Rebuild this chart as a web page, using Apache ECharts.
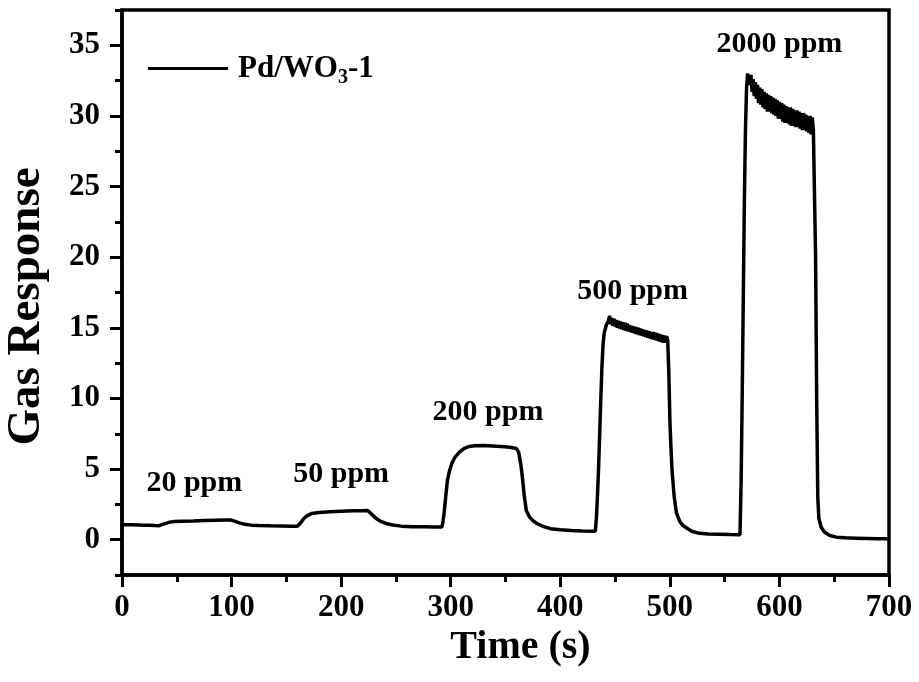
<!DOCTYPE html>
<html>
<head>
<meta charset="utf-8">
<script src="https://cdn.jsdelivr.net/npm/echarts@6/dist/echarts.min.js"></script>
<style>
  html, body { margin: 0; padding: 0; background: #fff; }
  #chart { width: 919px; height: 682px; }
</style>
</head>
<body>
<div id="chart"></div>
<script>
// Gas response of Pd/WO3-1 versus time for successive gas pulses
const timeS = [
  0, 5, 10, 15, 20, 25, 30, 34,
  37, 40, 43, 47, 55, 65, 75, 85, 95, 99,
  102, 105, 108, 112, 118, 125, 135, 145, 155, 160,
  162, 164, 166, 169, 173, 180, 190, 200, 210, 218, 224,
  226, 229, 232, 236, 241, 247, 255, 265, 275, 285, 292,
  293, 294, 295, 296, 297, 299, 301, 304, 308, 312, 317, 322, 330, 338, 346, 354, 360,
  362, 364, 365, 367, 369, 372, 375, 379, 385, 391, 400, 410, 420, 432,
  433, 434, 435, 436, 437, 438, 439, 440, 442, 444, 445, 446, 447, 448, 449, 450, 451, 452, 453, 454,
  455, 456, 457, 458, 459, 460, 461, 462, 463, 464, 465, 466, 467, 468, 469, 470, 471, 472, 473, 474,
  475, 476, 477, 478, 479, 480, 481, 482, 483, 484, 485, 486, 487, 488, 489, 490, 491, 492, 493, 494,
  495, 496, 497, 498,
  499, 500, 501, 502, 504, 506, 509, 512, 515, 520, 527, 535, 545, 555, 564,
  565, 566, 567, 568, 569, 570, 571,
  572, 573, 574, 575, 576, 577, 578, 579, 580, 581, 582, 583, 584, 585, 586, 587, 588, 589,
  590, 591, 592, 593, 594, 595, 596, 597, 598, 599, 600, 601, 602, 603, 604, 605, 606, 607,
  608, 609, 610, 611, 612, 613, 614, 615, 616, 617, 618, 619, 620, 621, 622, 623, 624, 625,
  626, 627, 628, 629, 630, 631,
  632, 633, 634, 635, 636, 638, 641, 646, 652, 660, 670, 680, 690, 700
];
const response = [
  1.06, 1.05, 1.05, 1.04, 1.03, 1.02, 1.0, 0.99,
  1.08, 1.16, 1.23, 1.28, 1.31, 1.33, 1.36, 1.38, 1.40, 1.39,
  1.33, 1.25, 1.17, 1.09, 1.03, 1.0, 0.98, 0.97, 0.96, 0.96,
  1.1, 1.3, 1.5, 1.7, 1.85, 1.93, 1.98, 2.01, 2.04, 2.05, 2.07,
  1.95, 1.72, 1.5, 1.3, 1.15, 1.04, 0.96, 0.92, 0.91, 0.9, 0.9,
  1.3, 1.9, 2.7, 3.5, 4.2, 4.9, 5.4, 5.85, 6.2, 6.45, 6.6, 6.65, 6.66, 6.63, 6.6, 6.55, 6.45,
  6.2, 5.3, 4.7, 3.2, 2.05, 1.6, 1.35, 1.13, 0.92, 0.78, 0.7, 0.65, 0.62, 0.6,
  1.6, 3.2, 5.2, 7.6, 10.0, 12.2, 13.8, 14.6, 15.2, 15.5, 15.85, 15.25, 15.7, 15.15, 15.65, 15.1, 15.55, 15.0, 15.5, 14.95,
  15.45, 14.9, 15.4, 14.85, 15.35, 14.8, 15.3, 14.75, 15.2, 14.7, 15.15, 14.65, 15.1, 14.6, 15.05, 14.55, 15.0, 14.5, 14.95, 14.45,
  14.9, 14.4, 14.85, 14.35, 14.8, 14.3, 14.75, 14.25, 14.7, 14.2, 14.7, 14.15, 14.65, 14.1, 14.6, 14.05, 14.55, 14.0, 14.5, 13.95,
  14.45, 13.95, 14.4, 14.1,
  12.0, 8.5, 6.5, 4.9, 3.0, 1.9, 1.3, 1.0, 0.85, 0.6, 0.45, 0.4, 0.38, 0.36, 0.35,
  4.0, 10.0, 17.0, 24.0, 29.0, 32.0, 33.0,
  33.1, 32.2, 32.9, 31.7, 32.6, 31.4, 32.4, 31.2, 32.2, 30.9, 32.0, 30.8, 31.9, 30.6, 31.7, 30.5, 31.6, 30.3,
  31.5, 30.3, 31.4, 30.2, 31.3, 30.1, 31.2, 30.0, 31.1, 29.8, 31.0, 29.8, 30.9, 29.6, 30.8, 29.5, 30.7, 29.5,
  30.6, 29.4, 30.6, 29.3, 30.5, 29.3, 30.4, 29.2, 30.4, 29.2, 30.3, 29.1, 30.2, 29.0, 30.2, 29.0, 30.1, 28.9,
  30.0, 28.8, 30.0, 28.7, 29.9, 28.9,
  28.8, 20.0, 10.0, 3.0, 1.5, 0.9, 0.55, 0.3, 0.18, 0.13, 0.11, 0.09, 0.07, 0.06
];

// Gas concentration labels placed above each pulse (time, response)
const doseLabels = ['20 ppm', '50 ppm', '200 ppm', '500 ppm', '2000 ppm'];
const doseLabelTime = [66, 200, 334, 466, 600];
const doseLabelLevel = [4.0, 4.6, 9.0, 17.6, 35.1];

const seriesName = 'Pd/WO3-1';
const xTicks = { min: 0, max: 700, step: 100 };
const yMajor = { min: 0, max: 35, step: 5 };
const yFrame = { min: -2.5, max: 37.5, step: 2.5 };

const FONT = '"Liberation Serif", "Times New Roman", serif';
const W = 919, H = 682;
const gridLeft = 122, gridRight = 30, gridTop = 10, gridBottom = 107;
const plotH = H - gridTop - gridBottom;
// pixel offsets of the labelled y range inside the frame
const majTop = gridTop + (yFrame.max - yMajor.max) / (yFrame.max - yFrame.min) * plotH;
const majBottomPx = gridTop + (yFrame.max - yMajor.min) / (yFrame.max - yFrame.min) * plotH;

const chart = echarts.init(document.getElementById('chart'), null, { renderer: 'canvas' });

const data = timeS.map((t, i) => [t, response[i]]);
const marks = doseLabels.map((s, i) => ({
  name: s,
  coord: [doseLabelTime[i], doseLabelLevel[i]]
}));

const option = {
  backgroundColor: '#ffffff',
  animation: false,
  textStyle: { fontFamily: FONT },
  legend: {
    show: true,
    data: [seriesName],
    left: 143,
    top: 48,
    itemWidth: 80,
    itemHeight: 3,
    icon: 'rect',
    formatter: () => '{a|Pd/WO}{s|3}{a|-1}',
    textStyle: {
      color: '#000',
      padding: [0, 0, 0, 5],
      rich: {
        a: { fontFamily: FONT, fontWeight: 'bold', fontSize: 31, color: '#000' },
        s: { fontFamily: FONT, fontWeight: 'bold', fontSize: 20, color: '#000', verticalAlign: 'bottom', padding: [18, 0, 0, 0] }
      }
    }
  },
  grid: [
    {
      left: gridLeft, right: gridRight, top: gridTop, bottom: gridBottom,
      outerBoundsMode: 'none', containLabel: false,
      show: true, borderColor: '#000', borderWidth: 3.5, backgroundColor: 'transparent'
    },
    {
      left: gridLeft, right: gridRight, top: majTop, bottom: H - majBottomPx,
      outerBoundsMode: 'none', containLabel: false,
      show: false
    }
  ],
  xAxis: [
    {
      gridIndex: 0,
      type: 'value',
      min: xTicks.min, max: xTicks.max, interval: xTicks.step,
      name: 'Time (s)',
      nameLocation: 'middle',
      nameGap: 52,
      nameTextStyle: { fontFamily: FONT, fontWeight: 'bold', fontSize: 40, color: '#000', padding: [0, 0, 0, 30] },
      axisLine: { show: true, onZero: false, lineStyle: { color: '#000', width: 3.5 } },
      axisTick: { show: true, inside: false, length: 12, lineStyle: { color: '#000', width: 3 } },
      minorTick: { show: true, splitNumber: 2, length: 7, lineStyle: { color: '#000', width: 3 } },
      splitLine: { show: false },
      axisLabel: { fontFamily: FONT, fontWeight: 'bold', fontSize: 31, color: '#000', margin: 17 }
    },
    {
      gridIndex: 1,
      type: 'value', min: 0, max: 700, show: false,
      axisLine: { onZero: false }
    }
  ],
  yAxis: [
    {
      gridIndex: 0,
      type: 'value',
      min: yFrame.min, max: yFrame.max, interval: yFrame.step,
      name: 'Gas Response',
      nameLocation: 'middle',
      nameGap: 72,
      nameTextStyle: { fontFamily: FONT, fontWeight: 'bold', fontSize: 47, color: '#000', padding: [0, 28, 0, 0] },
      axisLine: { show: true, onZero: false, lineStyle: { color: '#000', width: 3.5 } },
      axisTick: { show: true, inside: false, length: 7, lineStyle: { color: '#000', width: 3 } },
      splitLine: { show: false },
      axisLabel: { show: false }
    },
    {
      gridIndex: 1,
      type: 'value',
      min: yMajor.min, max: yMajor.max, interval: yMajor.step,
      axisLine: { show: false, onZero: false },
      axisTick: { show: true, inside: false, length: 12, lineStyle: { color: '#000', width: 3 } },
      splitLine: { show: false },
      axisLabel: { fontFamily: FONT, fontWeight: 'bold', fontSize: 31, color: '#000', margin: 22 }
    }
  ],
  series: [
    {
      name: seriesName,
      type: 'line',
      xAxisIndex: 0,
      yAxisIndex: 0,
      data: data,
      showSymbol: false,
      symbol: 'none',
      lineStyle: { color: '#000', width: 3.5 },
      itemStyle: { color: '#000' },
      markPoint: {
        symbol: 'circle',
        symbolSize: 0,
        data: marks,
        label: {
          show: true,
          position: 'inside',
          formatter: '{b}',
          fontFamily: FONT,
          fontWeight: 'bold',
          fontSize: 30,
          color: '#000'
        }
      }
    }
  ]
};

chart.setOption(option);
</script>
</body>
</html>
